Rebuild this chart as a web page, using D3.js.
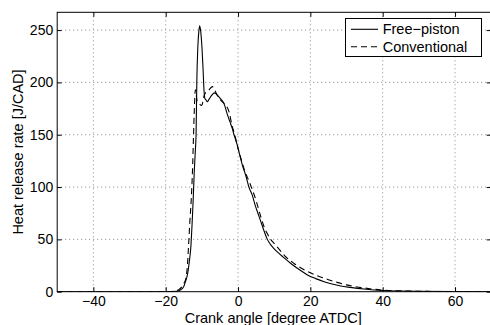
<!DOCTYPE html>
<html>
<head>
<meta charset="utf-8">
<script src="https://cdn.jsdelivr.net/npm/d3@7"></script>
<style>
  html, body { margin: 0; padding: 0; background: #fff; }
  svg { display: block; font-family: "Liberation Sans", Arial, Helvetica, sans-serif; }
</style>
</head>
<body>
<svg id="chart" width="490" height="325"></svg>
<script>
// ---- data ----
const xTicks = [-40, -20, 0, 20, 40, 60];
const yTicks = [0, 50, 100, 150, 200, 250];
const seriesNames = ["Free\u2212piston", "Conventional"];

const freeAngle = [-50, -30, -20, -18, -17, -16, -15, -14.5, -14, -13.5, -13, -12.7, -12.4, -12.1, -11.8, -11.6, -11.4, -11.1, -10.8, -10.6, -10.3, -10.0, -9.7, -9.4, -9.2, -8.8, -8.5, -8.0, -7.2, -6.6, -6.2, -5.0, -3.9, -3.0, -2.2, -1.6, -1.1, -0.2, 0.44, 1.2, 2.1, 3.0, 3.96, 4.7, 5.5, 6.3, 7.2, 8.1, 9.0, 10.0, 11.0, 12.5, 14.6, 17.0, 19.2, 21.5, 23.8, 26.0, 28.4, 31.0, 33.1, 35.5, 37.7, 40, 45, 50, 60, 70];
const freeHRR   = [0, 0, 0, 0.1, 0.3, 1.5, 5, 10, 16, 28, 45, 65, 88, 115, 135, 150, 200, 235, 250, 254, 248, 235, 215, 192, 185, 183, 181.5, 184, 188, 190, 189.5, 185, 180, 170, 162, 156, 150, 140, 131, 121, 111.5, 100, 92, 83, 75, 67, 58, 50, 45, 41, 37.5, 33, 27, 21, 16, 12.5, 9.6, 7.3, 5.4, 4.1, 3.2, 2.3, 1.6, 1.1, 0.6, 0.3, 0.1, 0];

const convAngle = [-50, -30, -20, -19, -18, -17, -16.4, -15.5, -15, -14.5, -14, -13.6, -13.3, -12.94, -12.6, -12.3, -12.1, -11.8, -11.3, -10.8, -10.2, -9.9, -9.5, -9.0, -8.0, -7.1, -6.5, -5.8, -4.8, -3.9, -2.5, -1.6, -1.0, 0, 1, 2, 3, 4, 5, 6, 7, 8, 9, 10, 11.5, 13, 15.5, 20, 25, 30, 35, 40, 45, 50, 60, 70];
const convHRR   = [0, 0, 0, 0.2, 0.5, 1, 1.8, 5, 8, 11.5, 25, 49, 68, 88, 115, 150, 172, 193, 182, 180, 178, 179, 186, 190, 193, 196, 193, 188, 183, 180, 172, 158, 151, 137, 125, 114, 106, 97, 87, 75, 64, 56, 50, 46, 40, 34, 27, 18, 11.5, 6.5, 3.5, 1.6, 0.8, 0.4, 0.1, 0];

// ---- layout ----
const svg = d3.select("#chart");
const L = 57.2, R = 491.2, T = 12.3, B = 291.7;
const x = d3.scaleLinear().domain([-50, 70]).range([L, R]);
const y = d3.scaleLinear().domain([0, 267]).range([B, T]);

const gridColor = "#8a8a8a";
// grid
svg.append("g").selectAll("line").data(xTicks).join("line")
  .attr("x1", d => x(d)).attr("x2", d => x(d)).attr("y1", T).attr("y2", B)
  .attr("stroke", gridColor).attr("stroke-width", 1).attr("stroke-dasharray", "1,3");
svg.append("g").selectAll("line").data(yTicks.filter(d => d > 0)).join("line")
  .attr("x1", L).attr("x2", R).attr("y1", d => y(d)).attr("y2", d => y(d))
  .attr("stroke", gridColor).attr("stroke-width", 1).attr("stroke-dasharray", "1,3");

// axes with inward ticks, on all sides
const tl = 4.5;
const axB = d3.axisBottom(x).tickValues(xTicks).tickSizeInner(-tl).tickSizeOuter(0).tickPadding(4.5)
  .tickFormat(d => d < 0 ? "\u2212" + Math.abs(d) : d);
const axT = d3.axisTop(x).tickValues(xTicks).tickSizeInner(-tl).tickSizeOuter(0).tickFormat("");
const axL = d3.axisLeft(y).tickValues(yTicks).tickSizeInner(-tl).tickSizeOuter(0).tickPadding(4);
const axR = d3.axisRight(y).tickValues(yTicks).tickSizeInner(-tl).tickSizeOuter(0).tickFormat("");

function style(g) {
  g.select(".domain").remove();
  g.selectAll(".tick line").attr("stroke", "#000").attr("stroke-width", 1);
  g.selectAll(".tick text").attr("fill", "#000").attr("font-size", 14)
    .attr("font-family", "'Liberation Sans', Arial, sans-serif");
}
svg.append("g").attr("transform", `translate(0,${B})`).call(axB).call(style);
svg.append("g").attr("transform", `translate(0,${T})`).call(axT).call(style);
svg.append("g").attr("transform", `translate(${L},0)`).call(axL).call(style);
svg.append("g").attr("transform", `translate(${R},0)`).call(axR).call(style);

// clip
svg.append("clipPath").attr("id", "clip").append("rect")
  .attr("x", L).attr("y", T).attr("width", R - L).attr("height", B - T);

const line = d3.line().x(d => x(d[0])).y(d => y(d[1])).curve(d3.curveMonotoneX);
const free = freeAngle.map((a, i) => [a, freeHRR[i]]);
const conv = convAngle.map((a, i) => [a, convHRR[i]]);

svg.append("path").datum(conv).attr("d", line).attr("clip-path", "url(#clip)")
  .attr("fill", "none").attr("stroke", "#000").attr("stroke-width", 1.1)
  .attr("stroke-dasharray", "6,4");
svg.append("path").datum(free).attr("d", line).attr("clip-path", "url(#clip)")
  .attr("fill", "none").attr("stroke", "#000").attr("stroke-width", 1.1);

// frame
svg.append("rect").attr("x", L).attr("y", T).attr("width", R - L).attr("height", B - T)
  .attr("fill", "none").attr("stroke", "#000").attr("stroke-width", 1);

// axis labels
svg.append("text").attr("x", (L + R) / 2 - 1).attr("y", 322.7).attr("text-anchor", "middle")
  .attr("font-size", 14.5).attr("fill", "#000").text("Crank angle [degree ATDC]");
svg.append("text").attr("transform", `translate(23,${(T + B) / 2}) rotate(-90)`)
  .attr("text-anchor", "middle").attr("font-size", 14.5).attr("fill", "#000")
  .text("Heat release rate [J/CAD]");

// legend
const lg = svg.append("g");
lg.append("rect").attr("x", 345.5).attr("y", 18.5).attr("width", 136).attr("height", 38)
  .attr("fill", "#fff").attr("stroke", "#000").attr("stroke-width", 1);
const rows = [29.3, 46.7];
seriesNames.forEach((name, i) => {
  lg.append("line").attr("x1", 351).attr("x2", 378).attr("y1", rows[i]).attr("y2", rows[i])
    .attr("stroke", "#000").attr("stroke-width", 1.1)
    .attr("stroke-dasharray", i === 1 ? "6,4" : null);
  lg.append("text").attr("x", 382.7).attr("y", rows[i] + 5).attr("font-size", 14.5)
    .attr("fill", "#000").text(name);
});
</script>
</body>
</html>
